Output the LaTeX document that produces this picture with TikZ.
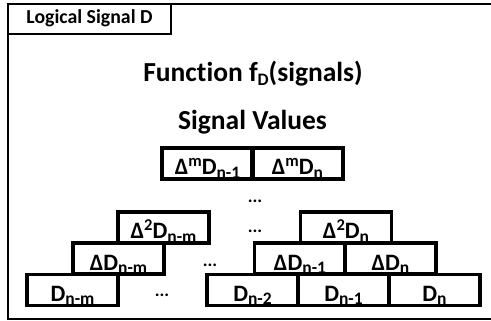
\documentclass[tikz,border=0pt]{standalone}
\usepackage{fontspec}
\setmainfont{Carlito}[Ligatures=NoCommon]
\usetikzlibrary{calc}

% lowered subscript and raised superscript for the cell labels
\newcommand\dsub[1]{\raisebox{-3.5pt}{\fontsize{17.5}{17.5}\selectfont #1}}
\newcommand\dsup[1]{\raisebox{8pt}{\fontsize{16.5}{16.5}\selectfont #1}}

\tikzset{
  cell/.style={draw, line width=3.4pt, minimum width=91pt, minimum height=31pt,
    inner sep=0pt, text height=23pt, text depth=0pt,
    font=\fontsize{23.5}{23.5}\bfseries\selectfont},
  heading/.style={anchor=base, inner sep=0pt, font=\fontsize{27.5}{27.5}\bfseries\selectfont},
  gap/.style={anchor=base, inner sep=0pt, font=\fontsize{18}{18}\bfseries\selectfont},
}

\begin{document}
\begin{tikzpicture}[x=1pt, y=-1pt]
  \clip (0,0) rectangle (491,321);

  % outer frame, running past the right edge
  \draw[line width=2.2pt] (8,4) rectangle (520,319);

  % tab with the signal name
  \node[draw, line width=2.5pt, minimum width=163pt, minimum height=30pt, inner sep=0pt,
        font=\fontsize{19.8}{19.8}\bfseries\selectfont, text height=14.5pt, text depth=5pt]
        (tab) at (89.5,19) {Logical Signal D};

  % headings
  \node[heading] (func) at (253,82) {Function f\dsub{D}(signals)};
  \node[heading] (vals) at (252.5,130) {Signal Values};

  % highest-order differences
  \node[cell] (m1) at (207.5,163.5) {Δ\dsup{m}D\dsub{n-1}};
  \node[cell] (m0) at (297.5,163.5) {Δ\dsup{m}D\dsub{n}};

  % second differences
  \node[cell] (s2) at (163.5,227.5) {Δ\dsup{2}D\dsub{n-m}};
  \node[cell] (s0) at (346,227.5) {Δ\dsup{2}D\dsub{n}};

  % first differences
  \node[cell] (f2) at (118.5,258.5) {ΔD\dsub{n-m}};
  \node[cell] (f1) at (300,258.5) {ΔD\dsub{n-1}};
  \node[cell] (f0) at (390.5,258.5) {ΔD\dsub{n}};

  % raw values
  \node[cell] (d3) at (72.5,290) {D\dsub{n-m}};
  \node[cell] (d2) at (252.5,290) {D\dsub{n-2}};
  \node[cell] (d1) at (343.5,290) {D\dsub{n-1}};
  \node[cell] (d0) at (434.5,290) {D\dsub{n}};

  % elisions
  \node[gap] (g0) at (162,297) {...};
  \node[gap] (g1) at (210,266) {...};
  \node[gap] (g2) at (255,233) {...};
  \node[gap] (g3) at (255,203) {...};
\end{tikzpicture}
\end{document}
